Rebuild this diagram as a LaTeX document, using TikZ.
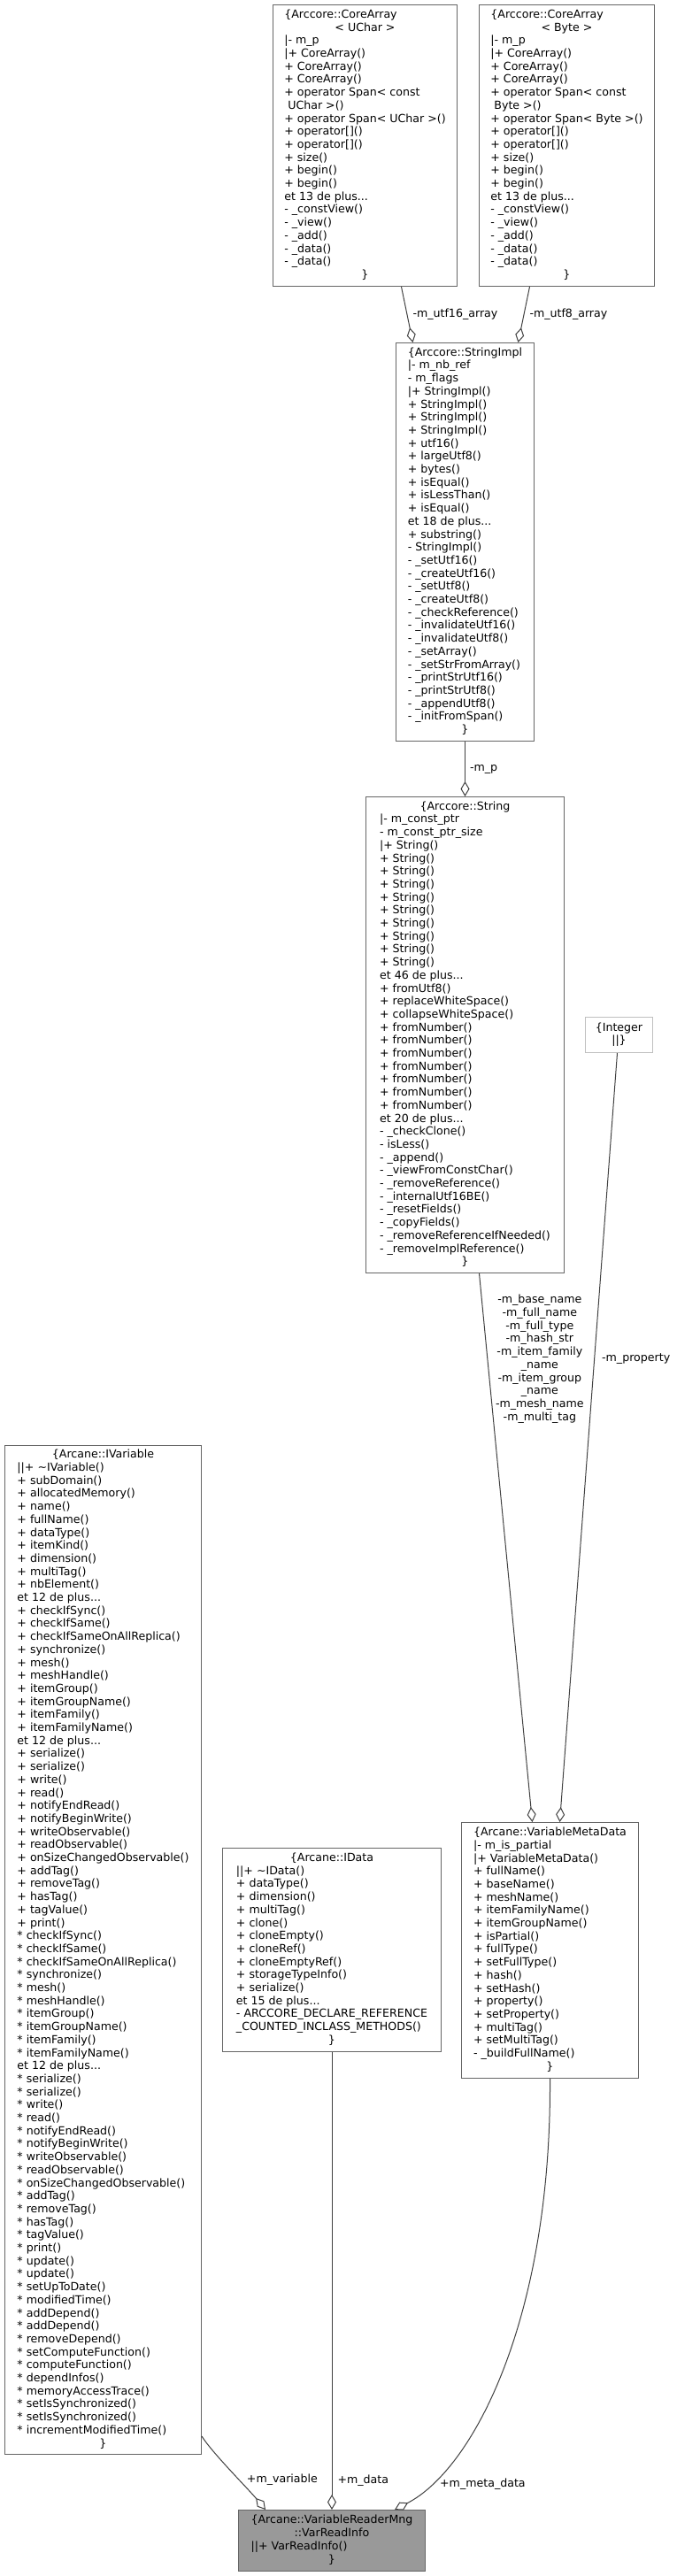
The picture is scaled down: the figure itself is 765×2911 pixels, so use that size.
\documentclass[tikz,border=0pt]{standalone}
\usepackage{fontspec}
\setmainfont{DejaVu Sans}
\usetikzlibrary{arrows.meta}
\definecolor{CgBorder}{HTML}{666666}
\definecolor{CgEdge}{HTML}{404040}
\definecolor{CgFocus}{HTML}{999999}
\definecolor{CgLight}{HTML}{BFBFBF}
\newcommand{\cgmid}[1]{\multicolumn{1}{@{}c@{}}{#1}}

\begin{document}
\begin{tikzpicture}[x=1pt,y=-1pt,
    cls/.style={draw=CgBorder,fill=white,line width=1pt,anchor=north west,
      inner sep=2pt,font=\fontsize{12.6}{14.7}\selectfont},
    lbl/.style={font=\fontsize{12.6}{14.7}\selectfont,inner sep=1pt,text=black},
    agg/.style={draw=CgEdge,line width=1pt,-{Diamond[open,length=17pt,width=10pt]}}]
  \useasboundingbox (0,0) rectangle (765,2911);

  \node[cls,minimum width=208pt,minimum height=318pt] (uchar) at (308,5)
    {\begin{tabular}{@{}l@{}}
     \{Arccore::CoreArray\\
     \cgmid{< UChar >}\\
     |- m\_p\\
     |+ CoreArray()\\
     + CoreArray()\\
     + CoreArray()\\
     + operator Span< const\\
     \null\ UChar >()\\
     + operator Span< UChar >()\\
     + operator[]()\\
     + operator[]()\\
     + size()\\
     + begin()\\
     + begin()\\
     et 13 de plus...\\
     - \_constView()\\
     - \_view()\\
     - \_add()\\
     - \_data()\\
     - \_data()\\
     \cgmid{\}}
     \end{tabular}};

  \node[cls,minimum width=198pt,minimum height=318pt] (byte) at (541,5)
    {\begin{tabular}{@{}l@{}}
     \{Arccore::CoreArray\\
     \cgmid{< Byte >}\\
     |- m\_p\\
     |+ CoreArray()\\
     + CoreArray()\\
     + CoreArray()\\
     + operator Span< const\\
     \null\ Byte >()\\
     + operator Span< Byte >()\\
     + operator[]()\\
     + operator[]()\\
     + size()\\
     + begin()\\
     + begin()\\
     et 13 de plus...\\
     - \_constView()\\
     - \_view()\\
     - \_add()\\
     - \_data()\\
     - \_data()\\
     \cgmid{\}}
     \end{tabular}};

  \node[cls,minimum width=156pt,minimum height=450pt] (strimpl) at (447,387)
    {\begin{tabular}{@{}l@{}}
     \{Arccore::StringImpl\\
     |- m\_nb\_ref\\
     - m\_flags\\
     |+ StringImpl()\\
     + StringImpl()\\
     + StringImpl()\\
     + StringImpl()\\
     + utf16()\\
     + largeUtf8()\\
     + bytes()\\
     + isEqual()\\
     + isLessThan()\\
     + isEqual()\\
     et 18 de plus...\\
     + substring()\\
     - StringImpl()\\
     - \_setUtf16()\\
     - \_createUtf16()\\
     - \_setUtf8()\\
     - \_createUtf8()\\
     - \_checkReference()\\
     - \_invalidateUtf16()\\
     - \_invalidateUtf8()\\
     - \_setArray()\\
     - \_setStrFromArray()\\
     - \_printStrUtf16()\\
     - \_printStrUtf8()\\
     - \_appendUtf8()\\
     - \_initFromSpan()\\
     \cgmid{\}}
     \end{tabular}};

  \node[cls,minimum width=224pt,minimum height=538pt] (string) at (413,900)
    {\begin{tabular}{@{}l@{}}
     \cgmid{\{Arccore::String}\\
     |- m\_const\_ptr\\
     - m\_const\_ptr\_size\\
     |+ String()\\
     + String()\\
     + String()\\
     + String()\\
     + String()\\
     + String()\\
     + String()\\
     + String()\\
     + String()\\
     + String()\\
     et 46 de plus...\\
     + fromUtf8()\\
     + replaceWhiteSpace()\\
     + collapseWhiteSpace()\\
     + fromNumber()\\
     + fromNumber()\\
     + fromNumber()\\
     + fromNumber()\\
     + fromNumber()\\
     + fromNumber()\\
     + fromNumber()\\
     et 20 de plus...\\
     - \_checkClone()\\
     - isLess()\\
     - \_append()\\
     - \_viewFromConstChar()\\
     - \_removeReference()\\
     - \_internalUtf16BE()\\
     - \_resetFields()\\
     - \_copyFields()\\
     - \_removeReferenceIfNeeded()\\
     - \_removeImplReference()\\
     \cgmid{\}}
     \end{tabular}};

  \node[cls,draw=CgLight,minimum width=76pt,minimum height=40pt] (integer) at (661,1149)
    {\begin{tabular}{@{}c@{}}
     \{Integer\\
     ||\}
     \end{tabular}};

  \node[cls,minimum width=222pt,minimum height=1140pt] (ivar) at (5,1633)
    {\begin{tabular}{@{}l@{}}
     \cgmid{\{Arcane::IVariable}\\
     ||+ \textasciitilde IVariable()\\
     + subDomain()\\
     + allocatedMemory()\\
     + name()\\
     + fullName()\\
     + dataType()\\
     + itemKind()\\
     + dimension()\\
     + multiTag()\\
     + nbElement()\\
     et 12 de plus...\\
     + checkIfSync()\\
     + checkIfSame()\\
     + checkIfSameOnAllReplica()\\
     + synchronize()\\
     + mesh()\\
     + meshHandle()\\
     + itemGroup()\\
     + itemGroupName()\\
     + itemFamily()\\
     + itemFamilyName()\\
     et 12 de plus...\\
     + serialize()\\
     + serialize()\\
     + write()\\
     + read()\\
     + notifyEndRead()\\
     + notifyBeginWrite()\\
     + writeObservable()\\
     + readObservable()\\
     + onSizeChangedObservable()\\
     + addTag()\\
     + removeTag()\\
     + hasTag()\\
     + tagValue()\\
     + print()\\
     {}* checkIfSync()\\
     {}* checkIfSame()\\
     {}* checkIfSameOnAllReplica()\\
     {}* synchronize()\\
     {}* mesh()\\
     {}* meshHandle()\\
     {}* itemGroup()\\
     {}* itemGroupName()\\
     {}* itemFamily()\\
     {}* itemFamilyName()\\
     et 12 de plus...\\
     {}* serialize()\\
     {}* serialize()\\
     {}* write()\\
     {}* read()\\
     {}* notifyEndRead()\\
     {}* notifyBeginWrite()\\
     {}* writeObservable()\\
     {}* readObservable()\\
     {}* onSizeChangedObservable()\\
     {}* addTag()\\
     {}* removeTag()\\
     {}* hasTag()\\
     {}* tagValue()\\
     {}* print()\\
     {}* update()\\
     {}* update()\\
     {}* setUpToDate()\\
     {}* modifiedTime()\\
     {}* addDepend()\\
     {}* addDepend()\\
     {}* removeDepend()\\
     {}* setComputeFunction()\\
     {}* computeFunction()\\
     {}* dependInfos()\\
     {}* memoryAccessTrace()\\
     {}* setIsSynchronized()\\
     {}* setIsSynchronized()\\
     {}* incrementModifiedTime()\\
     \cgmid{\}}
     \end{tabular}};

  \node[cls,minimum width=247pt,minimum height=230pt] (idata) at (251,2088)
    {\begin{tabular}{@{}l@{}}
     \cgmid{\{Arcane::IData}\\
     ||+ \textasciitilde IData()\\
     + dataType()\\
     + dimension()\\
     + multiTag()\\
     + clone()\\
     + cloneEmpty()\\
     + cloneRef()\\
     + cloneEmptyRef()\\
     + storageTypeInfo()\\
     + serialize()\\
     et 15 de plus...\\
     - ARCCORE\_DECLARE\_REFERENCE\\
     \_COUNTED\_INCLASS\_METHODS()\\
     \cgmid{\}}
     \end{tabular}};

  \node[cls,minimum width=200pt,minimum height=289pt] (vmd) at (521,2059)
    {\begin{tabular}{@{}l@{}}
     \{Arcane::VariableMetaData\\
     |- m\_is\_partial\\
     |+ VariableMetaData()\\
     + fullName()\\
     + baseName()\\
     + meshName()\\
     + itemFamilyName()\\
     + itemGroupName()\\
     + isPartial()\\
     + fullType()\\
     + setFullType()\\
     + hash()\\
     + setHash()\\
     + property()\\
     + setProperty()\\
     + multiTag()\\
     + setMultiTag()\\
     - \_buildFullName()\\
     \cgmid{\}}
     \end{tabular}};

  \node[cls,fill=CgFocus,minimum width=211pt,minimum height=69pt] (vri) at (269,2836)
    {\begin{tabular}{@{}l@{}}
     \cgmid{\{Arcane::VariableReaderMng}\\
     \cgmid{::VarReadInfo}\\
     ||+ VarReadInfo()\\
     \cgmid{\}}
     \end{tabular}};

  \draw[agg] ([xshift=41pt]uchar.south) -- node[lbl,anchor=west,xshift=5pt] (lutf16) {-m\_utf16\_array} ([xshift=-59pt]strimpl.north);
  \draw[agg] ([xshift=-42pt]byte.south) -- node[lbl,anchor=west,xshift=5pt] (lutf8) {-m\_utf8\_array} ([xshift=60pt]strimpl.north);
  \draw[agg] (strimpl.south) -- node[lbl,anchor=west,xshift=4pt] (lp) {-m\_p} (string.north);
  \draw[agg] ([xshift=16pt]string.south) -- node[lbl,pos=0.156,xshift=59pt,align=center] (lstr)
    {-m\_base\_name\\-m\_full\_name\\-m\_full\_type\\-m\_hash\_str\\-m\_item\_family\\\_name\\-m\_item\_group\\\_name\\-m\_mesh\_name\\-m\_multi\_tag}
    ([xshift=-20pt]vmd.north);
  \draw[agg] ([xshift=-2pt]integer.south) -- node[lbl,pos=0.398,anchor=west,xshift=7pt] (lprop) {-m\_property} ([xshift=11pt]vmd.north);
  \draw[agg] ([yshift=21pt]ivar.south east) .. controls (240,2772) and (280,2812) .. node[lbl,pos=0.6,anchor=west,xshift=8pt] (lvar) {+m\_variable} ([xshift=-75pt]vri.north);
  \draw[agg] (idata.south) -- node[lbl,pos=0.936,anchor=west,xshift=5pt] (ldata) {+m\_data} (vri.north);
  \draw[agg] (vmd.south) .. controls (623,2620) and (535,2790) .. node[lbl,pos=0.85,anchor=west,xshift=10pt] (lmeta) {+m\_meta\_data} ([xshift=71pt]vri.north);
\end{tikzpicture}
\end{document}
